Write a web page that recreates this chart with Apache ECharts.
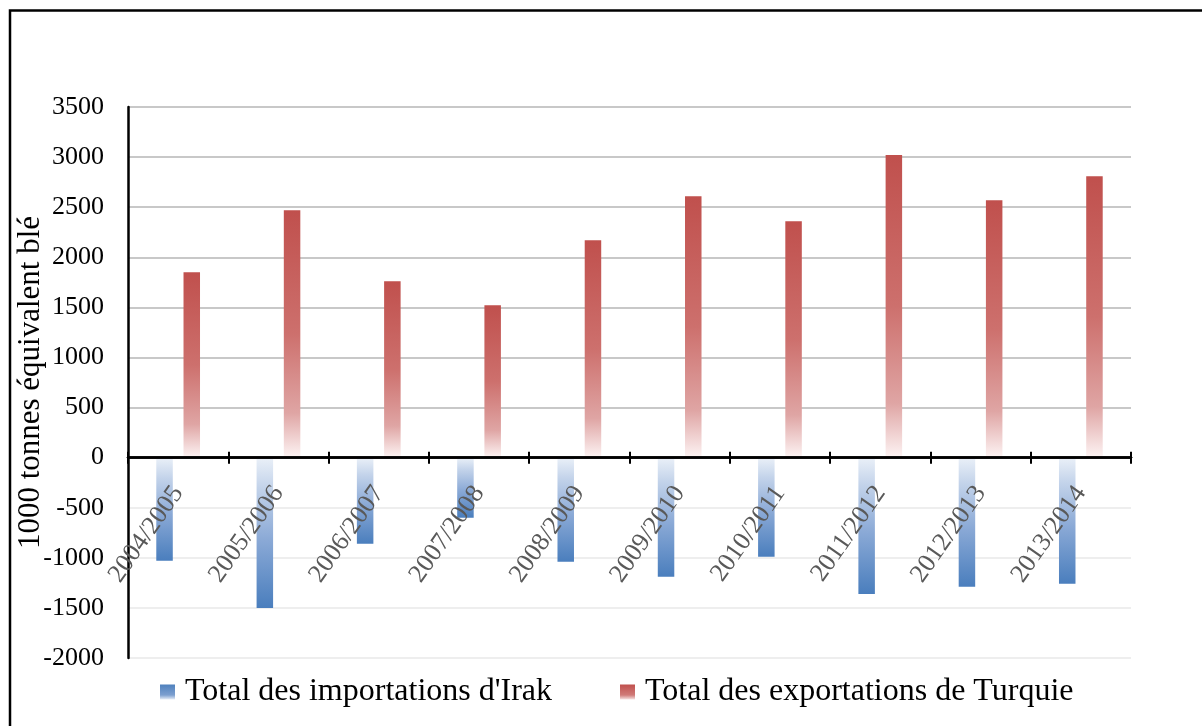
<!DOCTYPE html>
<html>
<head>
<meta charset="utf-8">
<script src="https://cdn.jsdelivr.net/npm/echarts@6/dist/echarts.min.js"></script>
<style>
  html, body { margin: 0; padding: 0; background: #fff; }
  #chart { width: 1202px; height: 726px; }
</style>
</head>
<body>
<div id="chart"></div>
<script>
// Campaign years
const campagnes = ['2004/2005', '2005/2006', '2006/2007', '2007/2008', '2008/2009',
                   '2009/2010', '2010/2011', '2011/2012', '2012/2013', '2013/2014'];

// Iraq imports (shown as negative quantities), 1000 t wheat equivalent
const importationsIrak = [-1030, -1500, -860, -600, -1040, -1190, -990, -1360, -1290, -1260];

// Turkey exports, 1000 t wheat equivalent
const exportationsTurquie = [1850, 2470, 1760, 1520, 2170, 2610, 2360, 3020, 2570, 2810];

const serieNames = ["Total des importations d'Irak", 'Total des exportations de Turquie'];
const yAxisTitle = '1000 tonnes équivalent blé';

const FONT = '"Liberation Serif", "Times New Roman", serif';

// bar fills: red fades out toward the zero line, blue fades in from it
const redFill = new echarts.graphic.LinearGradient(0, 0, 0, 1, [
  { offset: 0, color: '#c0504d' },
  { offset: 0.5, color: '#cd706d' },
  { offset: 0.82, color: '#dfa5a4' },
  { offset: 1, color: '#fdf4f4' }
]);
const blueFill = new echarts.graphic.LinearGradient(0, 0, 0, 1, [
  { offset: 0, color: '#eaf0f8' },
  { offset: 0.2, color: '#c3d3ea' },
  { offset: 0.55, color: '#8aa9d6' },
  { offset: 1, color: '#4a7ebd' }
]);
// legend swatches run solid at the top
const blueSwatch = new echarts.graphic.LinearGradient(0, 0, 0, 1, [
  { offset: 0, color: '#4f81bd' },
  { offset: 0.7, color: '#7c9fd0' },
  { offset: 1, color: '#e6edf7' }
]);
const redSwatch = new echarts.graphic.LinearGradient(0, 0, 0, 1, [
  { offset: 0, color: '#c0504d' },
  { offset: 0.7, color: '#d07a78' },
  { offset: 1, color: '#f6e2e2' }
]);

// split lines: light below zero, grey from zero upward
const splitColors = ['#eeeeee', '#eeeeee', '#eeeeee', '#eeeeee',
                     '#c8c8c8', '#c8c8c8', '#c8c8c8', '#c8c8c8',
                     '#c8c8c8', '#c8c8c8', '#c8c8c8', '#c8c8c8'];

const Y_MIN = -2000, Y_MAX = 3500, Y_STEP = 500;
const LABEL_GAP = 31;   // distance from the zero line to the year labels

const chart = echarts.init(document.getElementById('chart'), null, { renderer: 'canvas' });

chart.setOption({
  animation: false,
  backgroundColor: '#ffffff',
  textStyle: { fontFamily: FONT },
  graphic: [{
    type: 'rect',
    shape: { x: 10, y: 10.5, width: 1300, height: 800 },
    style: { fill: 'none', stroke: '#000', lineWidth: 2.5 },
    silent: true
  }],
  grid: { left: 128, right: 71, top: 107, bottom: 68, containLabel: false, outerBoundsMode: 'none' },
  legend: {
    left: 160,
    top: 676,
    padding: 0,
    itemWidth: 15,
    itemHeight: 15,
    itemGap: 68,
    icon: 'rect',
    textStyle: { fontFamily: FONT, fontSize: 32, color: '#000', padding: [0, 0, 0, 5] },
    data: [
      { name: serieNames[0], itemStyle: { color: blueSwatch } },
      { name: serieNames[1], itemStyle: { color: redSwatch } }
    ]
  },
  xAxis: [{
    type: 'category',
    data: campagnes,
    boundaryGap: true,
    z: 5,
    axisLine: { onZero: true, onZeroAxisIndex: 0, lineStyle: { color: '#000', width: 2.5 } },
    axisTick: { show: true, length: 6, lineStyle: { color: '#000', width: 2 } },
    axisLabel: {
      rotate: 55,
      interval: 0,
      margin: LABEL_GAP,
      fontFamily: FONT,
      fontSize: 26,
      color: '#595959'
    },
    splitLine: { show: false }
  }, {
    // companion axis: draws the upward half of the category ticks
    type: 'category',
    data: campagnes,
    position: 'top',
    boundaryGap: true,
    z: 5,
    axisLine: { onZero: true, onZeroAxisIndex: 1, lineStyle: { color: '#000', width: 2.5 } },
    axisTick: { show: true, length: 6, lineStyle: { color: '#000', width: 2 } },
    axisLabel: { show: false },
    splitLine: { show: false }
  }],
  yAxis: [{
    type: 'value',
    min: Y_MIN,
    max: Y_MAX,
    interval: Y_STEP,
    name: yAxisTitle,
    nameLocation: 'middle',
    nameGap: 82,
    nameMoveOverlap: false,
    nameTextStyle: { fontFamily: FONT, fontSize: 31, color: '#000' },
    axisLine: { show: true, onZero: false, lineStyle: { color: '#000', width: 2.5 } },
    axisTick: { show: false },
    axisLabel: {
      fontFamily: FONT, fontSize: 26, color: '#000', margin: 24,
      formatter: v => String(v)
    },
    splitLine: { show: true, lineStyle: { color: splitColors, width: 2 } }
  }, {
    // same scale, hidden: anchor for the companion x axis
    type: 'value',
    min: Y_MIN,
    max: Y_MAX,
    interval: Y_STEP,
    show: false
  }],
  series: [{
    name: serieNames[0],
    type: 'bar',
    xAxisIndex: 0,
    yAxisIndex: 0,
    data: importationsIrak,
    barWidth: 16.5,
    barGap: '65%',
    itemStyle: { color: blueFill }
  }, {
    name: serieNames[1],
    type: 'bar',
    xAxisIndex: 0,
    yAxisIndex: 0,
    data: exportationsTurquie,
    barWidth: 16.5,
    barGap: '65%',
    itemStyle: { color: redFill }
  }]
});

// keep the year labels hanging just under the zero line rather than at the grid bottom
const zeroY = chart.convertToPixel({ yAxisIndex: 0 }, 0);
const bottomY = chart.convertToPixel({ yAxisIndex: 0 }, Y_MIN);
chart.setOption({
  xAxis: [{ axisLabel: { margin: LABEL_GAP - (bottomY - zeroY) } }, {}]
});
</script>
</body>
</html>
